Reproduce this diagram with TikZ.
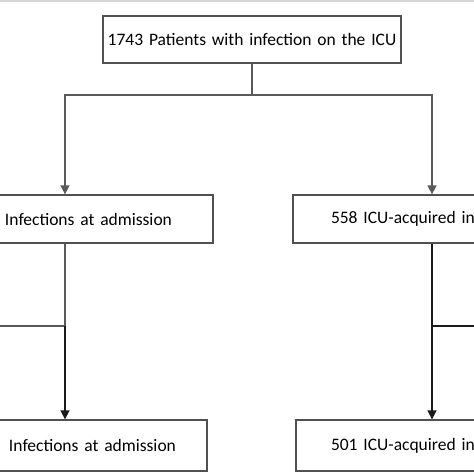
\documentclass[tikz,border=0pt]{standalone}
\usepackage{fontspec}
\setmainfont{Carlito}
\usetikzlibrary{arrows.meta}
\definecolor{linegray}{HTML}{5A5A5A}
\definecolor{boxgray}{HTML}{505050}
\definecolor{bandgray}{HTML}{D6D6D6}
\definecolor{darkline}{HTML}{1A1A1A}
\begin{document}
\begin{tikzpicture}[x=1pt,y=-1pt,
  box/.style={draw=boxgray, line width=1.3pt, inner xsep=0pt, inner ysep=0pt,
    text width=#1, align=left, font=\fontsize{17.5}{21}\selectfont},
  gline/.style={draw=linegray, line width=1.5pt},
  garrow/.style={gline, -{Triangle[width=9pt,length=9pt]}},
  bline/.style={draw=darkline, line width=1.5pt},
  barrow/.style={bline, -{Triangle[width=9pt,length=9pt]}}]
\useasboundingbox (0,0) rectangle (474,474);
\clip (0,0) rectangle (474,474);
\fill[bandgray] (0,0) rectangle (474,2.3);
\node[box=298pt, align=center, minimum height=47pt] (top) at (252,39.5) {\mbox{1743 Patients with infection on the ICU}};
\node[box=296pt, minimum height=48pt] (midL) at (65,219) {\hspace*{88pt}\mbox{Infections at admission}};
\node[box=278pt, minimum height=48pt] (midR) at (432,219) {\hspace*{38pt}\mbox{558 ICU-acquired in}};
\node[box=284pt, minimum height=51pt] (botL) at (65,445.5) {\hspace*{86pt}\mbox{Infections at admission}};
\node[box=272pt, minimum height=51pt] (botR) at (432,445.5) {\hspace*{35pt}\mbox{501 ICU-acquired in}};
\coordinate (jt) at (252,95);
\coordinate (sl) at (65,326);
\coordinate (el) at (-10,326);
\coordinate (sr) at (432,326);
\coordinate (er) at (484,326);
\draw[gline] (top.south) -- (jt);
\draw[garrow] (jt) -| (midL.north);
\draw[garrow] (jt) -| (midR.north);
\draw[gline] (midL.south) -- (sl) -- (el);
\draw[barrow] (sl) -- (botL.north);
\draw[barrow] (midR.south) -- (botR.north);
\draw[bline] (sr) -- (er);
\end{tikzpicture}
\end{document}
